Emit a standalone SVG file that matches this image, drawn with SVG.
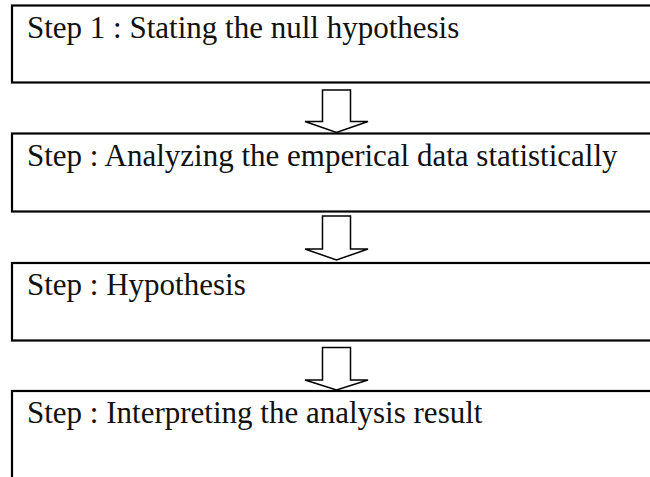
<svg xmlns="http://www.w3.org/2000/svg" width="650" height="477" viewBox="0 0 650 477">
<style>
.box{fill:#fff;stroke:#000;stroke-width:2.2}
.lbl{font-family:"Liberation Serif","Times New Roman",serif;font-size:31px;fill:#111}
.arr{fill:#fff;stroke:#000;stroke-width:1.5;stroke-linejoin:miter}
</style>
<rect width="650" height="477" fill="#fff"/>
<g id="connectors">
<path class="arr" d="M322.5,90 H350.5 V121.5 H368 L336.5,132.5 L305,121.5 H322.5 Z"/>
<path class="arr" d="M322.5,216 H350.5 V249 H368 L336.5,260 L305,249 H322.5 Z"/>
<path class="arr" d="M322.5,347.5 H350.5 V380 H368 L336.5,390 L305,380 H322.5 Z"/>
</g>
<g id="step1">
<rect class="box" x="12" y="5.5" width="660" height="77"/>
<text class="lbl" x="27" y="38">Step 1 : Stating the null hypothesis</text>
</g>
<g id="step2">
<rect class="box" x="12" y="133.5" width="660" height="78"/>
<text class="lbl" x="27" y="166">Step : Analyzing the emperical data statistically</text>
</g>
<g id="step3">
<rect class="box" x="12" y="263" width="660" height="77.5"/>
<text class="lbl" x="27" y="294.5">Step : Hypothesis</text>
</g>
<g id="step4">
<rect class="box" x="12" y="391" width="660" height="120"/>
<text class="lbl" x="27" y="423">Step : Interpreting the analysis result</text>
</g>
</svg>
